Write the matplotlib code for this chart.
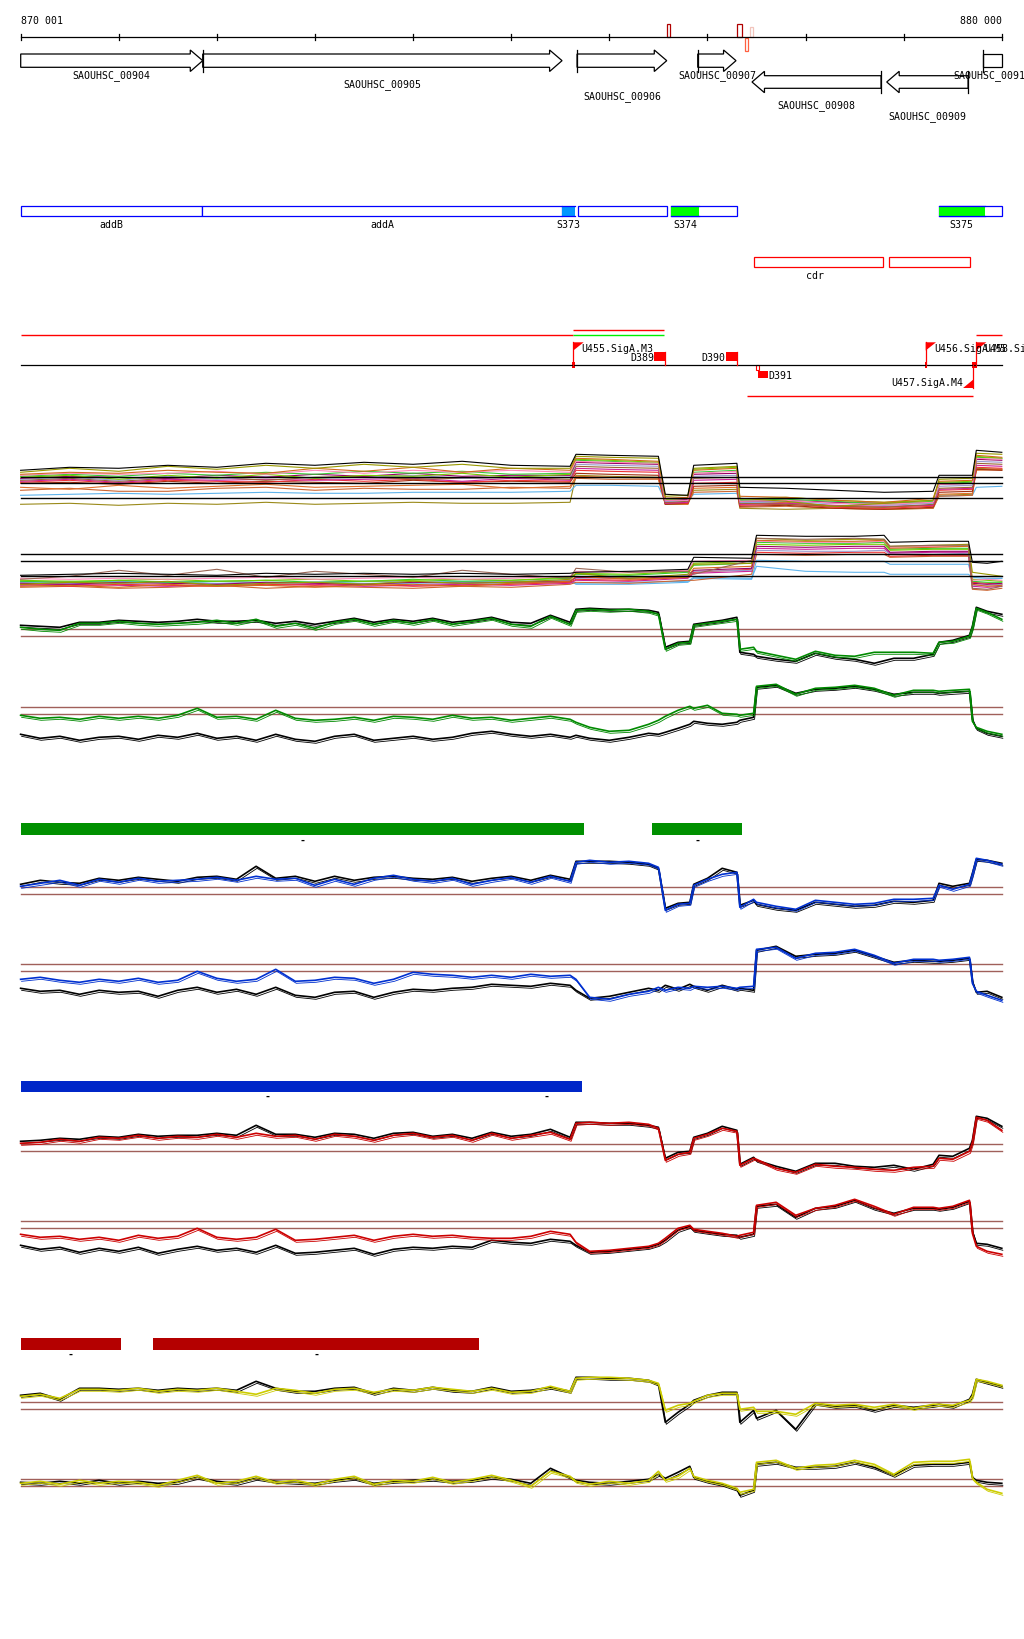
import matplotlib
matplotlib.use('Agg')
import matplotlib.pyplot as plt
from matplotlib.patches import Polygon, Rectangle
import matplotlib.transforms as mtransforms

W, H, DPI = 1024, 1640, 100
X0, X1 = 869790, 880226
VIEW_START, VIEW_END = 870001, 880000
MONO = 'DejaVu Sans Mono'
FS = 7.1

# ---------------- annotation data ----------------
RULER_LABELS = ['870 001', '880 000']
RULER_TICKS = [870001, 871000, 872000, 873000, 874000, 875000, 876000,
               877000, 878000, 879000, 880000]

MARK_START = [876585, 877304, 877386, 877437]
MARK_END = [876618, 877349, 877413, 877464]

GENE_NAMES = ['SAOUHSC_00904', 'SAOUHSC_00905', 'SAOUHSC_00906', 'SAOUHSC_00907',
              'SAOUHSC_00908', 'SAOUHSC_00909', 'SAOUHSC_00910']
GENE_START = [869900, 871856, 875671, 876901, 877454, 878827, 879808]
GENE_END = [871856, 875518, 876585, 877291, 878769, 879656, 880400]
GENE_STRAND = ['+', '+', '+', '+', '-', '-', '+']

FEAT_NAMES = ['addB', 'addA', '', '', '']
FEAT_START = [870001, 871849, 875681, 876629, 879356]
FEAT_END = [871849, 875518, 876588, 877301, 880000]

SRNA_NAMES = ['S373', 'S374', 'S375']
SRNA_START = [875518, 876629, 879356]
SRNA_END = [875645, 876914, 879829]

CDR_NAMES = ['cdr', '']
CDR_START = [877470, 878850]
CDR_END = [878789, 879676]

TX_START = [870001, 875633, 875633, 879737, 877403]
TX_END = [875633, 876560, 876560, 880000, 879707]

PROM_NAMES = ['U455.SigA.M3', 'U456.SigA.M5', 'U458.SigA.M6', 'U457.SigA.M4']
PROM_POS = [875633, 879224, 879737, 879710]
PROM_STRAND = ['+', '+', '+', '-']

TERM_NAMES = ['D389', 'D390', 'D391']
TERM_POS = [876567, 877298, 877518]
TERM_STRAND = ['+', '+', '-']

GREEN_BAR_START = [870001, 876435]
GREEN_BAR_END = [875738, 877352]
BLUE_BAR_START = [870001, 875008]
BLUE_BAR_END = [875039, 875719]
RED_BAR_START = [870001, 871349]
RED_BAR_END = [871023, 874672]

# ---------------- profile data (kb offsets from 870 000) ----------------
PROFILE_KB = [0.0, 0.2, 0.4, 0.6, 0.8, 1.0, 1.2, 1.4, 1.6, 1.8, 2.0, 2.2, 2.4, 2.6, 2.8,
              3.0, 3.2, 3.4, 3.6, 3.8, 4.0, 4.2, 4.4, 4.6, 4.8, 5.0, 5.2, 5.4, 5.6,
              5.66, 5.8, 6.0, 6.2, 6.4, 6.5,
              6.57, 6.7, 6.82,
              6.86, 7.0, 7.15, 7.3,
              7.33, 7.47,
              7.5, 7.7, 7.9, 8.1, 8.3, 8.5, 8.7, 8.9, 9.1, 9.3,
              9.36, 9.5, 9.67,
              9.7, 9.74, 9.85, 10.0]

A_TOP_GREEN = [0.9, 0.7, 0.6, 1.3, 1.3, 1.5, 1.3, 1.2, 1.3, 1.4, 1.6, 1.3, 1.7, 1.0, 1.3,
               0.8, 1.4, 1.7, 1.2, 1.6, 1.3, 1.7, 1.2, 1.5, 1.8, 1.2, 1.0, 2.0, 1.2,
               2.6, 2.7, 2.6, 2.7, 2.5, 2.2,
               -1.3, -0.7, -0.6,
               1.1, 1.3, 1.5, 1.7,
               -1.3, -1.1,
               -1.5, -1.9, -2.3, -1.5, -1.9, -2.0, -1.6, -1.6, -1.6, -1.7,
               -0.6, -0.5, 0.0,
               0.9, 2.8, 2.4, 1.7]
A_TOP_BLACK = [1.1, 1.0, 0.9, 1.4, 1.4, 1.6, 1.5, 1.4, 1.5, 1.7, 1.5, 1.5, 1.6, 1.3, 1.5,
               1.2, 1.5, 1.8, 1.4, 1.7, 1.5, 1.8, 1.4, 1.6, 1.9, 1.4, 1.3, 2.1, 1.4,
               2.7, 2.8, 2.7, 2.7, 2.6, 2.4,
               -1.1, -0.6, -0.5,
               1.2, 1.4, 1.6, 1.9,
               -1.6, -1.8,
               -2.0, -2.3, -2.5, -1.7, -2.1, -2.3, -2.7, -2.2, -2.2, -1.8,
               -0.6, -0.4, 0.1,
               1.0, 2.9, 2.5, 2.2]
A_BOT_GREEN = [-0.1, -0.4, -0.3, -0.5, -0.2, -0.4, -0.2, -0.4, -0.1, 0.6, -0.3, -0.2, -0.5, 0.4, -0.4,
               -0.6, -0.5, -0.3, -0.6, -0.2, -0.3, -0.5, -0.1, -0.4, -0.3, -0.6, -0.4, -0.2, -0.5,
               -0.8, -1.3, -1.7, -1.6, -1.0, -0.6,
               -0.2, 0.4, 0.8,
               0.6, 0.9, 0.1, 0.0,
               -0.1, 0.1,
               2.8, 3.0, 2.0, 2.6, 2.7, 2.9, 2.6, 1.9, 2.4, 2.4,
               2.3, 2.4, 2.5,
               -0.7, -1.3, -1.7, -2.0]
A_BOT_BLACK = [-2.0, -2.4, -2.2, -2.6, -2.3, -2.2, -2.5, -2.1, -2.3, -1.9, -2.4, -2.2, -2.6, -2.0, -2.5,
               -2.7, -2.2, -2.0, -2.6, -2.4, -2.2, -2.5, -2.3, -1.9, -1.7, -2.0, -2.2, -2.0, -2.3,
               -2.1, -2.4, -2.6, -2.3, -1.9, -2.0,
               -1.8, -1.4, -1.0,
               -0.7, -0.9, -1.0, -0.8,
               -0.6, -0.3,
               2.7, 2.9, 2.1, 2.5, 2.6, 2.8, 2.5, 2.0, 2.2, 2.2,
               2.1, 2.2, 2.3,
               -0.5, -1.4, -1.9, -2.2]

B_TOP_BLUE = [0.8, 1.1, 1.4, 0.9, 1.5, 1.2, 1.6, 1.3, 1.4, 1.5, 1.7, 1.4, 1.8, 1.5, 1.6,
              0.9, 1.5, 1.0, 1.6, 1.9, 1.5, 1.3, 1.6, 1.0, 1.4, 1.7, 1.2, 1.8, 1.3,
              3.2, 3.4, 3.2, 3.3, 3.1, 2.7,
              -1.6, -1.0, -0.9,
              0.9, 1.5, 2.0, 2.2,
              -1.3, -0.5,
              -0.8, -1.2, -1.5, -0.6, -0.8, -1.0, -0.9, -0.5, -0.5, -0.4,
              0.9, 0.5, 1.0,
              2.0, 3.6, 3.4, 3.0]
B_TOP_BLACK = [1.0, 1.4, 1.2, 1.1, 1.6, 1.4, 1.7, 1.5, 1.3, 1.7, 1.8, 1.5, 2.8, 1.6, 1.8,
               1.3, 1.8, 1.4, 1.7, 1.8, 1.6, 1.5, 1.7, 1.3, 1.6, 1.8, 1.4, 1.9, 1.5,
               3.3, 3.3, 3.3, 3.2, 3.0, 2.6,
               -1.4, -0.9, -0.8,
               1.0, 1.6, 2.6, 2.2,
               -1.1, -0.6,
               -1.0, -1.4, -1.6, -0.8, -1.0, -1.2, -1.1, -0.7, -0.8, -0.6,
               1.1, 0.8, 1.1,
               2.1, 3.5, 3.4, 3.1]
B_BOT_BLUE = [-0.8, -0.6, -0.9, -1.1, -0.8, -1.0, -0.7, -1.1, -0.9, 0.0, -0.7, -1.0, -0.8, 0.2, -1.0,
              -0.9, -0.6, -0.7, -1.2, -0.8, -0.1, -0.3, -0.4, -0.6, -0.4, -0.6, -0.3, -0.5, -0.4,
              -0.8, -2.6, -2.8, -2.3, -2.0, -1.6,
              -1.9, -1.6, -1.7,
              -1.5, -1.6, -1.5, -1.7,
              -1.6, -1.5,
              2.2, 2.4, 1.3, 1.8, 1.9, 2.2, 1.6, 0.8, 1.2, 1.2,
              1.1, 1.2, 1.4,
              -1.2, -2.0, -2.4, -2.9]
B_BOT_BLACK = [-1.7, -2.0, -1.9, -2.3, -1.9, -2.1, -2.0, -2.5, -1.9, -1.6, -2.1, -1.8, -2.3, -1.6, -2.4,
               -2.6, -2.1, -2.0, -2.6, -2.1, -1.8, -1.9, -1.7, -1.6, -1.3, -1.4, -1.5, -1.2, -1.4,
               -1.9, -2.7, -2.5, -2.1, -1.7, -1.9,
               -1.4, -1.8, -1.3,
               -1.5, -1.9, -1.4, -1.8,
               -1.7, -1.9,
               2.1, 2.5, 1.5, 1.7, 1.8, 2.1, 1.5, 0.9, 1.1, 1.0,
               1.0, 1.1, 1.3,
               -1.0, -2.1, -2.0, -2.6]

C_TOP_RED = [0.8, 0.9, 1.2, 1.0, 1.4, 1.3, 1.6, 1.3, 1.5, 1.4, 1.7, 1.4, 1.8, 1.5, 1.6,
             1.2, 1.7, 1.5, 1.1, 1.6, 1.8, 1.4, 1.6, 1.1, 1.8, 1.3, 1.6, 1.9, 1.2,
             2.8, 2.9, 2.8, 2.9, 2.7, 2.3,
             -0.9, -0.3, -0.1,
             1.3, 1.7, 2.3, 2.0,
             -1.4, -0.7,
             -0.8, -1.7, -2.1, -1.3, -1.5, -1.6, -1.8, -1.9, -1.6, -1.5,
             -0.7, -0.8, 0.0,
             0.9, 3.4, 3.1, 2.1]
C_TOP_BLACK = [1.0, 1.1, 1.3, 1.2, 1.5, 1.4, 1.7, 1.5, 1.6, 1.6, 1.8, 1.6, 2.6, 1.7, 1.7,
               1.4, 1.8, 1.7, 1.3, 1.8, 1.9, 1.5, 1.7, 1.3, 1.9, 1.5, 1.7, 2.2, 1.4,
               2.9, 2.9, 2.8, 2.8, 2.6, 2.4,
               -0.7, -0.1, 0.0,
               1.4, 1.8, 2.5, 2.1,
               -1.3, -0.6,
               -0.9, -1.5, -2.0, -1.2, -1.2, -1.5, -1.6, -1.4, -1.8, -1.3,
               -0.4, -0.5, 0.3,
               1.1, 3.5, 3.3, 2.5]
C_BOT_RED = [-0.6, -0.9, -0.8, -1.1, -0.9, -1.2, -0.7, -1.0, -0.8, 0.0, -0.9, -1.1, -0.9, -0.1, -1.2,
             -1.1, -0.9, -0.7, -1.2, -0.8, -0.6, -0.8, -0.7, -0.9, -1.0, -1.0, -0.8, -0.3, -0.6,
             -1.4, -2.3, -2.2, -2.0, -1.8, -1.5,
             -1.0, 0.0, 0.3,
             -0.1, -0.3, -0.5, -0.8,
             -0.7, -0.4,
             2.3, 2.6, 1.3, 2.0, 2.3, 2.9, 2.2, 1.4, 2.1, 2.1,
             2.0, 2.2, 2.8,
             -0.5, -1.8, -2.3, -2.6]
C_BOT_BLACK = [-1.7, -2.1, -1.9, -2.4, -2.0, -2.3, -1.9, -2.5, -2.1, -1.8, -2.2, -2.0, -2.4, -1.7, -2.5,
               -2.4, -2.2, -2.0, -2.6, -2.1, -1.9, -2.0, -1.8, -1.9, -1.2, -1.4, -1.5, -1.1, -1.3,
               -1.7, -2.4, -2.3, -2.1, -1.9, -1.6,
               -1.2, -0.2, 0.2,
               -0.2, -0.4, -0.6, -0.7,
               -0.9, -0.6,
               2.2, 2.4, 1.1, 2.0, 2.2, 2.8, 2.0, 1.5, 2.0, 2.0,
               1.9, 2.1, 2.7,
               -0.3, -1.5, -1.6, -2.0]

D_TOP_YELLOW = [1.3, 1.5, 1.1, 2.0, 2.0, 1.9, 2.1, 1.8, 2.0, 1.9, 2.1, 1.8, 1.5, 2.1, 1.9,
                1.6, 2.0, 2.1, 1.7, 2.0, 1.9, 2.2, 2.0, 1.8, 2.1, 1.7, 1.8, 2.3, 1.8,
                3.1, 3.2, 3.2, 3.1, 2.9, 2.6,
                -0.1, 0.4, 0.6,
                0.8, 1.4, 1.6, 1.6,
                0.0, 0.2,
                -0.2, -0.2, -0.5, 0.6, 0.4, 0.5, 0.2, 0.5, 0.1, 0.5,
                0.5, 0.4, 0.9,
                1.3, 3.0, 2.8, 2.4]
D_TOP_BLACK = [1.4, 1.6, 1.0, 2.1, 2.1, 2.0, 2.1, 1.9, 2.1, 2.0, 2.1, 1.9, 2.8, 2.1, 1.8,
               1.8, 2.1, 2.2, 1.6, 2.1, 1.9, 2.2, 1.9, 1.8, 2.2, 1.8, 1.9, 2.2, 1.8,
               3.2, 3.2, 3.1, 3.1, 2.9, 2.5,
               -1.3, -0.3, 0.5,
               0.9, 1.4, 1.7, 1.7,
               -1.3, -0.1,
               -0.9, -0.1, -2.0, 0.6, 0.3, 0.4, -0.1, 0.4, 0.2, 0.4,
               0.5, 0.3, 1.0,
               1.5, 3.0, 2.7, 2.3]
D_BOT_YELLOW = [0.3, 0.5, 0.2, 0.6, 0.3, 0.5, 0.4, 0.1, 0.6, 1.1, 0.3, 0.5, 1.0, 0.4, 0.6,
                0.2, 0.7, 1.0, 0.2, 0.6, 0.5, 0.9, 0.4, 0.7, 1.1, 0.6, 0.0, 1.5, 1.0,
                0.5, 0.2, 0.5, 0.3, 0.6, 1.5,
                0.6, 1.0, 1.8,
                1.0, 0.6, 0.3, -0.2,
                -0.6, -0.3,
                2.4, 2.6, 1.8, 2.1, 2.2, 2.6, 2.2, 1.2, 2.4, 2.5,
                2.5, 2.5, 2.7,
                0.8, 0.4, -0.3, -0.7]
D_BOT_BLACK = [0.4, 0.3, 0.5, 0.3, 0.6, 0.3, 0.5, 0.3, 0.4, 0.9, 0.5, 0.3, 0.8, 0.5, 0.4,
               0.3, 0.6, 0.8, 0.3, 0.5, 0.6, 0.7, 0.5, 0.6, 0.9, 0.7, 0.3, 1.8, 0.9,
               0.6, 0.4, 0.3, 0.5, 0.7, 1.2,
               0.8, 1.4, 2.0,
               0.9, 0.5, 0.2, -0.3,
               -0.9, -0.4,
               2.2, 2.4, 1.9, 1.9, 2.0, 2.4, 1.9, 1.1, 2.1, 2.2,
               2.2, 2.2, 2.4,
               0.9, 0.6, 0.4, 0.3]

# ---------------- multi-strain profile data ----------------
M1_KB = [0.0, 0.5, 1.0, 1.5, 2.0, 2.5, 3.0, 3.5, 4.0, 4.5, 5.0, 5.6,
         5.66, 6.0, 6.5, 6.57, 6.8, 6.86, 7.3,
         7.33, 7.8, 8.3, 8.8, 9.3, 9.36, 9.7, 9.74, 10.0]
M1_BLACK = [2.8, 3.1, 3.0, 3.3, 3.1, 3.5, 3.3, 3.6, 3.4, 3.7, 3.3, 3.2, 4.4, 4.3, 4.2, 0.4, 0.3, 3.3, 3.5, 1.1, 1.0, 0.8, 0.6, 0.7, 2.3, 2.3, 4.8, 4.6]
M1_OLIVE = [2.6, 3.0, 2.7, 3.2, 2.9, 3.3, 3.0, 3.4, 3.1, 3.4, 3.0, 3.0, 4.2, 4.1, 4.0, 0.2, 0.3, 3.0, 3.2, 0.0, -0.3, -0.8, -0.5, -0.2, 1.9, 2.0, 4.5, 4.4]
M1_ORANGE = [2.4, 2.6, 2.5, 2.8, 2.6, 2.5, 3.0, 2.7, 3.1, 2.6, 3.0, 2.8, 4.0, 3.9, 3.7, 0.0, 0.1, 2.8, 3.0, 0.2, 0.1, -0.2, -0.4, 0.0, 1.7, 1.8, 4.3, 4.1]
M1_GREEN = [2.2, 2.4, 2.2, 2.5, 2.3, 2.6, 2.4, 2.7, 2.5, 2.7, 2.4, 2.5, 3.8, 3.7, 3.5, -0.1, 0.0, 2.6, 2.8, -0.2, -0.1, -0.3, -0.6, -0.3, 1.5, 1.6, 4.1, 4.0]
M1_PURPLE = [2.0, 2.2, 2.1, 2.0, 2.3, 2.1, 2.4, 2.2, 2.5, 2.2, 2.3, 2.3, 3.6, 3.5, 3.4, -0.2, -0.1, 2.4, 2.5, -0.3, -0.2, -0.4, -0.5, -0.4, 1.4, 1.5, 3.9, 3.8]
M1_LAVENDER = [1.9, 2.1, 1.8, 2.2, 1.9, 2.2, 2.0, 2.1, 2.3, 2.0, 2.1, 2.1, 3.4, 3.3, 3.2, -0.3, -0.2, 2.2, 2.3, -0.4, -0.3, -0.5, -0.7, -0.5, 1.2, 1.3, 3.7, 3.6]
M1_LIME = [2.1, 2.3, 1.9, 2.3, 2.0, 2.4, 2.0, 2.3, 2.2, 2.5, 2.1, 2.4, 3.9, 3.8, 3.6, -0.1, 0.0, 2.9, 3.1, -0.1, 0.1, -0.2, -0.4, -0.2, 1.6, 1.7, 4.2, 4.0]
M1_BROWN = [1.8, 2.0, 1.7, 2.0, 2.1, 1.8, 2.1, 2.2, 1.9, 2.0, 2.1, 1.9, 3.2, 3.1, 3.0, -0.4, -0.3, 2.0, 2.1, -0.5, -0.6, -0.8, -0.9, -0.6, 1.0, 1.1, 3.5, 3.4]
M1_MAGENTA = [1.7, 1.9, 1.6, 1.9, 1.8, 1.9, 1.8, 1.9, 2.0, 1.7, 2.0, 1.8, 3.0, 2.9, 2.8, -0.5, -0.4, 1.8, 1.9, -0.6, -0.5, -0.7, -0.8, -0.7, 0.9, 1.0, 3.3, 3.2]
M1_RED = [1.6, 1.8, 1.5, 1.8, 1.7, 1.6, 1.9, 1.7, 1.9, 1.6, 1.8, 1.7, 2.8, 2.7, 2.6, -0.4, -0.5, 1.5, 1.6, -0.7, -0.6, -0.9, -1.0, -0.8, 0.8, 0.9, 3.1, 3.0]
M1_DARKRED = [1.5, 1.6, 1.4, 1.7, 1.5, 1.7, 1.6, 1.5, 1.8, 1.6, 1.7, 1.6, 2.5, 2.4, 2.3, -0.6, -0.5, 1.2, 1.3, -0.8, -0.7, -1.0, -1.1, -0.9, 0.6, 0.7, 2.9, 2.8]
M1_ORANGE2 = [1.1, 0.9, 1.3, 1.0, 1.2, 1.4, 1.1, 1.2, 1.3, 1.4, 1.0, 1.2, 2.2, 2.1, 2.0, -0.5, -0.6, 1.0, 1.1, -0.6, -0.4, -0.8, -0.9, -0.7, 0.4, 0.5, 2.8, 2.9]
M1_ORANGE3 = [0.8, 1.0, 0.7, 0.7, 1.0, 1.1, 0.8, 1.0, 0.9, 0.9, 1.1, 1.0, 2.0, 1.9, 1.9, -0.6, -0.5, 0.6, 0.7, -0.9, -0.8, -1.0, -1.1, -1.0, 0.2, 0.3, 2.9, 2.8]
M1_LIGHTBLUE = [0.3, 0.4, 0.5, 0.4, 0.5, 0.6, 0.5, 0.5, 0.6, 0.6, 0.6, 0.7, 1.3, 1.3, 1.2, -0.3, -0.2, 0.4, 0.5, -0.4, -0.4, -0.5, -0.5, -0.4, 0.2, 0.3, 1.1, 1.2]
M1_OLIVE2 = [-0.6, -0.5, -0.7, -0.5, -0.6, -0.4, -0.6, -0.5, -0.4, -0.5, -0.5, -0.4, 2.3, 2.2, 2.1, -0.6, -0.6, 0.8, 0.9, -1.0, -1.1, -1.0, -1.1, -1.0, 0.3, 0.4, 3.0, 2.9]
M1_PINK = [2.3, 2.5, 2.4, 2.5, 2.7, 2.4, 2.8, 2.5, 2.8, 2.6, 2.8, 2.6, 3.7, 3.6, 3.5, -0.2, -0.2, 2.5, 2.7, -0.3, -0.2, -0.5, -0.6, -0.4, 1.4, 1.5, 4.0, 3.9]
M1_REF = [0.0, 1.5, 2.1]

M2_KB = [0.0, 0.5, 1.0, 1.5, 2.0, 2.5, 3.0, 3.5, 4.0, 4.5, 5.0, 5.6,
         5.66, 6.2, 6.8, 6.86, 7.45, 7.5, 8.0, 8.5, 8.8,
         8.86, 9.3, 9.66, 9.7, 9.85, 10.0]
M2_BLACK = [0.1, 0.2, 0.3, 0.2, 0.1, 0.3, 0.2, 0.3, 0.2, 0.3, 0.2, 0.3, 0.4, 0.5, 0.7, 1.9, 1.8, 4.1, 4.0, 4.0, 4.1, 3.4, 3.5, 3.5, 1.4, 1.3, 1.5]
M2_BROWN = [-0.3, 0.0, 0.6, 0.1, 0.7, -0.1, 0.5, 0.2, -0.1, 0.6, 0.2, -0.2, 0.8, 0.4, 0.5, 0.2, 1.6, 3.8, 3.7, 3.8, 3.7, 3.0, 3.1, 3.1, -1.2, -1.3, -1.0]
M2_OLIVE = [-0.8, -0.6, -0.7, -0.5, -0.9, -0.7, -0.6, -0.8, -0.5, -0.7, -0.6, -0.3, 0.3, -0.2, 0.2, 1.2, 1.3, 3.8, 3.6, 3.7, 3.7, 3.0, 3.1, 3.2, 0.4, 0.2, 0.0]
M2_ORANGE = [-1.0, -0.9, -1.1, -0.8, -1.0, -0.9, -1.1, -0.9, -0.8, -1.0, -0.7, -0.5, 0.0, -0.3, -0.1, 0.8, 1.0, 3.6, 3.5, 3.5, 3.6, 2.8, 2.9, 3.0, -0.8, -1.0, -0.9]
M2_GREEN = [-0.5, -0.6, -0.4, -0.6, -0.5, -0.4, -0.6, -0.5, -0.3, -0.5, -0.4, -0.2, 0.2, 0.1, 0.4, 1.1, 1.3, 3.4, 3.3, 3.3, 3.4, 2.7, 2.8, 2.8, -0.5, -0.6, -0.6]
M2_PURPLE = [-0.7, -0.8, -0.6, -0.7, -0.8, -0.6, -0.7, -0.8, -0.6, -0.7, -0.6, -0.5, -0.1, -0.2, 0.0, 0.6, 0.8, 3.0, 2.9, 3.0, 3.0, 2.4, 2.5, 2.5, -0.7, -0.8, -0.7]
M2_LIME = [-0.4, -0.5, -0.4, -0.3, -0.5, -0.4, -0.3, -0.5, -0.4, -0.3, -0.4, -0.1, 0.3, 0.2, 0.5, 1.3, 1.5, 3.2, 3.1, 3.2, 3.2, 2.6, 2.7, 2.7, -0.3, -0.4, -0.5]
M2_LAVENDER = [-0.6, -0.5, -0.7, -0.6, -0.5, -0.7, -0.6, -0.5, -0.6, -0.6, -0.5, -0.4, -0.2, -0.1, 0.1, 0.5, 0.6, 2.6, 2.5, 2.5, 2.6, 2.2, 2.2, 2.3, -0.9, -0.9, -0.8]
M2_MAGENTA = [-0.9, -0.8, -0.9, -1.0, -0.8, -0.9, -0.8, -1.0, -0.9, -0.8, -0.9, -0.7, -0.4, -0.5, -0.2, 0.3, 0.5, 2.8, 2.7, 2.8, 2.8, 2.3, 2.4, 2.4, -1.0, -1.1, -1.0]
M2_RED = [-0.8, -1.0, -0.8, -0.9, -1.0, -0.8, -0.9, -0.8, -1.0, -0.9, -0.8, -0.6, -0.3, -0.4, -0.1, 0.4, 0.7, 2.4, 2.3, 2.4, 2.4, 2.0, 2.1, 2.1, -0.6, -0.7, -0.8]
M2_ORANGE3 = [-1.1, -1.0, -1.2, -1.1, -0.9, -1.2, -1.0, -1.1, -1.2, -1.0, -1.1, -0.8, -0.6, -0.7, -0.4, -0.4, 0.2, 2.2, 2.1, 2.2, 2.2, 1.9, 2.0, 2.0, -1.3, -1.4, -1.2]
M2_LIGHTBLUE = [-0.5, -0.6, -0.5, -0.6, -0.5, -0.6, -0.6, -0.5, -0.6, -0.5, -0.6, -0.4, -0.8, -0.8, -0.6, -0.2, -0.3, 1.6, 1.5, 1.5, 1.5, 1.2, 1.2, 1.2, -0.3, -0.3, -0.2]
M2_LIGHTBLUE2 = [-0.6, -0.7, -0.7, -0.6, -0.7, -0.7, -0.6, -0.7, -0.7, -0.6, -0.7, -0.6, -0.7, -0.6, -0.5, -0.1, -0.2, 1.0, 0.5, 0.4, 0.4, 0.2, 0.2, 0.2, -0.1, -0.2, -0.2]
M2_PINK = [-0.2, -0.3, -0.2, -0.3, -0.2, -0.1, -0.3, -0.2, -0.1, -0.3, -0.2, 0.0, 0.5, 0.4, 0.6, 1.5, 1.6, 3.5, 3.4, 3.4, 3.5, 2.9, 3.0, 3.0, -0.4, -0.3, -0.4]
M2_REF = [0.0, 1.5, 2.2]

PAIR_REF = [0.0, 0.7]

# ---------------- figure ----------------
fig = plt.figure(figsize=(W / DPI, H / DPI), dpi=DPI)
fig.patch.set_facecolor('white')

ax = fig.add_axes([0, 0, 1, 1])
ax.set_xlim(X0, X1)
ax.set_ylim(H, 0)
ax.axis('off')

BLACK = '#000000'
RED = '#ff0000'


def txt(x, y, s, ha='center', color='black', **kw):
    ax.text(x, y, s, ha=ha, va='center', fontsize=FS, family=MONO, color=color, **kw)


# ruler
ax.plot([VIEW_START, VIEW_END], [38.3, 38.3], color=BLACK, lw=0.9)
for t in RULER_TICKS:
    ax.plot([t, t], [35.3, 41.3], color=BLACK, lw=0.9)
txt(VIEW_START, 20.5, RULER_LABELS[0], ha='left')
txt(VIEW_END, 20.5, RULER_LABELS[1], ha='right')

mark_rows = [(25, 38), (25, 38), (38.5, 52), (28, 38)]
mark_cols = ['#b00000', '#b00000', '#ff6040', '#f2c4bc']
for s, e, (yt, yb), c in zip(MARK_START, MARK_END, mark_rows, mark_cols):
    ax.add_patch(Rectangle((s, yt), e - s, yb - yt, facecolor='white', edgecolor=c, lw=0.9))

# genes
HEAD_BP = 127
label_rows = [76, 85, 97, 76, 106, 117, 76]
for name, s, e, strand, ly in zip(GENE_NAMES, GENE_START, GENE_END, GENE_STRAND, label_rows):
    cs, ce = max(s, VIEW_START), min(e, VIEW_END)
    if strand == '+':
        bt, bb, ht, hb = 55.0, 68.3, 51.0, 72.5
        mid = (bt + bb) / 2
        if e <= VIEW_END:
            pts = [(cs, bt), (e - HEAD_BP, bt), (e - HEAD_BP, ht), (e, mid),
                   (e - HEAD_BP, hb), (e - HEAD_BP, bb), (cs, bb)]
        else:
            pts = [(cs, bt), (ce, bt), (ce, bb), (cs, bb)]
        if s >= VIEW_START:
            ax.plot([s, s], [ht, hb], color=BLACK, lw=0.9)
    else:
        bt, bb, ht, hb = 76.7, 89.3, 72.3, 93.7
        mid = (bt + bb) / 2
        pts = [(s, mid), (s + HEAD_BP, ht), (s + HEAD_BP, bt), (ce, bt), (ce, bb),
               (s + HEAD_BP, bb), (s + HEAD_BP, hb)]
        if e <= VIEW_END:
            ax.plot([e, e], [ht, hb], color=BLACK, lw=0.9)
    ax.add_patch(Polygon(pts, closed=True, facecolor='white', edgecolor=BLACK, lw=0.9))
    txt((cs + ce) / 2, ly, name)

# annotated features (blue boxes)
for name, s, e in zip(FEAT_NAMES, FEAT_START, FEAT_END):
    ax.add_patch(Rectangle((s, 207.3), e - s, 10, facecolor='white', edgecolor='#0000ff', lw=0.9))
    if name:
        txt((s + e) / 2, 224.5, name)
srna_cols = ['#0096ff', '#00ff00', '#00ff00']
for name, s, e, c in zip(SRNA_NAMES, SRNA_START, SRNA_END, srna_cols):
    ax.add_patch(Rectangle((s, 207.3), e - s, 10, facecolor=c, edgecolor='none'))
    ax.plot([s, e], [207.3, 207.3], color='#0000ff', lw=0.9)
    ax.plot([s, e], [217.3, 217.3], color='#0000ff', lw=0.9)
    txt((s + e) / 2, 224.5, name)

for name, s, e in zip(CDR_NAMES, CDR_START, CDR_END):
    ax.add_patch(Rectangle((s, 258.3), e - s, 10, facecolor='white', edgecolor=RED, lw=0.9))
    if name:
        txt((s + e) / 2 - 30, 276, name)

# transcripts
tx_rows = [336, 331.3, 336, 336, 397]
tx_cols = [RED, RED, '#00ee00', RED, RED]
for s, e, y, c in zip(TX_START, TX_END, tx_rows, tx_cols):
    ax.plot([s, e], [y, y], color=c, lw=1.0, solid_capstyle='butt')

ax.plot([VIEW_START, VIEW_END], [366, 366], color=BLACK, lw=0.9)

FLAG_BP = 105
for name, p, strand in zip(PROM_NAMES, PROM_POS, PROM_STRAND):
    ax.add_patch(Rectangle((p - 12, 362.5), 24, 6, facecolor=RED, edgecolor='none'))
    if strand == '+':
        ax.plot([p, p], [366, 343.3], color=RED, lw=0.9)
        ax.add_patch(Polygon([(p, 343.3), (p + FLAG_BP, 343.3), (p, 351.5)], closed=True,
                             facecolor=RED, edgecolor='none'))
        txt(p + 85, 349.5, name, ha='left')
    else:
        ax.plot([p, p], [366, 389], color=RED, lw=0.9)
        ax.add_patch(Polygon([(p, 389), (p - FLAG_BP, 389), (p, 380.5)], closed=True,
                             facecolor=RED, edgecolor='none'))
        txt(p - 108, 383, name, ha='right')

TERM_BP = 108
for name, p, strand in zip(TERM_NAMES, TERM_POS, TERM_STRAND):
    if strand == '+':
        ax.add_patch(Rectangle((p - TERM_BP, 353.3), TERM_BP, 8.4, facecolor=RED, edgecolor='none'))
        ax.plot([p, p], [353.3, 366], color=RED, lw=0.9)
        txt(p - TERM_BP - 3, 357.8, name, ha='right')
    else:
        ax.add_patch(Rectangle((p - 26, 366), 30, 4.5, facecolor='white', edgecolor=RED, lw=0.8))
        ax.add_patch(Rectangle((p, 371.7), TERM_BP * 0.95, 7.6, facecolor=RED, edgecolor='none'))
        txt(p + TERM_BP * 0.95, 376, name, ha='left')

# coloured feature bars with strand marks
for starts, ends, y0, y1, c in [(GREEN_BAR_START, GREEN_BAR_END, 824, 836, '#009000'),
                               (BLUE_BAR_START, BLUE_BAR_END, 1082, 1092.7, '#0026c8'),
                               (RED_BAR_START, RED_BAR_END, 1339, 1350.7, '#b40000')]:
    for s, e in zip(starts, ends):
        ax.add_patch(Rectangle((s, y0), e - s, y1 - y0, facecolor=c, edgecolor='none'))
        txt((s + e) / 2, y1 + 4.5, '-', fontweight='bold')


# ---------------- profile panels ----------------
def band_axes(zero_px, top_px, bottom_px, unit_px=10.0):
    a = fig.add_axes([0, 1 - bottom_px / H, 1, (bottom_px - top_px) / H])
    a.set_xlim(X0, X1)
    a.set_ylim((zero_px - bottom_px) / unit_px, (zero_px - top_px) / unit_px)
    a.axis('off')
    return a


def pos(kbs):
    return [870000 + k * 1000 for k in kbs]


M1_SERIES = [(M1_OLIVE2, '#9a8a1a'), (M1_LIGHTBLUE, '#5fb4ec'), (M1_ORANGE3, '#cc6633'),
             (M1_ORANGE2, '#e0702a'), (M1_DARKRED, '#a03010'), (M1_RED, '#ee3333'),
             (M1_MAGENTA, '#cc2299'), (M1_BROWN, '#996633'), (M1_LAVENDER, '#9999cc'),
             (M1_PURPLE, '#990066'), (M1_GREEN, '#33cc33'), (M1_LIME, '#77cc00'),
             (M1_PINK, '#ff88bb'), (M1_ORANGE, '#d2691e'), (M1_OLIVE, '#999900'),
             (M1_BLACK, '#000000')]
M2_SERIES = [(M2_LIGHTBLUE2, '#5fb4ec'), (M2_LIGHTBLUE, '#5fb4ec'), (M2_ORANGE3, '#cc6633'),
             (M2_MAGENTA, '#cc2299'), (M2_RED, '#ee3333'), (M2_LAVENDER, '#9999cc'),
             (M2_PURPLE, '#990066'), (M2_GREEN, '#33cc33'), (M2_LIME, '#77cc00'),
             (M2_PINK, '#ff88bb'), (M2_ORANGE, '#d2691e'), (M2_OLIVE, '#999900'),
             (M2_BROWN, '#996655'), (M2_BLACK, '#000000')]

for kbs, series, refs, (z, t, b) in [(M1_KB, M1_SERIES, M1_REF, (499.3, 440, 522)),
                                     (M2_KB, M2_SERIES, M2_REF, (577.3, 525, 602))]:
    a = band_axes(z, t, b)
    xs = pos(kbs)
    for vals, c in series:
        a.plot(xs, vals, color=c, lw=0.8)
    for r in refs:
        a.plot([VIEW_START, VIEW_END], [r, r], color='black', lw=1.0, zorder=5)

REF_COL = '#a0605a'
pairs = [
    (A_TOP_BLACK, A_TOP_GREEN, '#008a00', (637.3, 595, 675)),
    (A_BOT_BLACK, A_BOT_GREEN, '#008a00', (715.3, 676, 748)),
    (B_TOP_BLACK, B_TOP_BLUE, '#0030d0', (895.3, 850, 922)),
    (B_BOT_BLACK, B_BOT_BLUE, '#0030d0', (972.3, 935, 1012)),
    (C_TOP_BLACK, C_TOP_RED, '#cc0000', (1152.3, 1105, 1182)),
    (C_BOT_BLACK, C_BOT_RED, '#cc0000', (1229.3, 1190, 1268)),
    (D_TOP_BLACK, D_TOP_YELLOW, '#cccc00', (1410.3, 1365, 1442)),
    (D_BOT_BLACK, D_BOT_YELLOW, '#cccc00', (1487.3, 1450, 1512)),
]
xs = pos(PROFILE_KB)
for blk, col, c, (z, t, b) in pairs:
    a = band_axes(z, t, b)
    for r in PAIR_REF:
        a.plot([VIEW_START, VIEW_END], [r, r], color=REF_COL, lw=1.0)
    shift = mtransforms.offset_copy(a.transData, fig=fig, x=1.0, y=-2.0, units='dots')
    a.plot(xs, blk, color='black', lw=1.2)
    a.plot(xs, blk, color='black', lw=0.6, transform=shift)
    a.plot(xs, col, color=c, lw=1.2)
    a.plot(xs, col, color=c, lw=0.6, transform=shift)

fig.savefig('out.png', dpi=DPI, facecolor='white')
